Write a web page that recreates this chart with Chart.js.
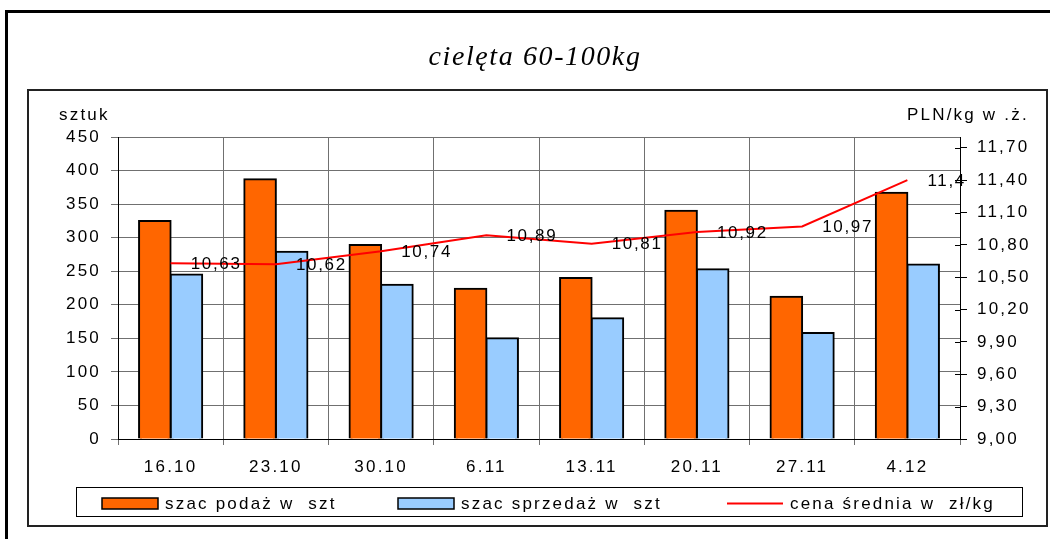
<!DOCTYPE html>
<html>
<head>
<meta charset="utf-8">
<script src="https://cdn.jsdelivr.net/npm/chart.js@4.4.0/dist/chart.umd.min.js"></script>
<style>
  html, body { margin: 0; padding: 0; background: #fff; overflow: hidden; }
  canvas { display: block; }
</style>
</head>
<body>
<canvas id="chart" width="1050" height="539"></canvas>
<script>
const weeks = ['16.10', '23.10', '30.10', '6.11', '13.11', '20.11', '27.11', '4.12'];
const supply = [325, 387, 289, 224, 240, 340, 212, 367];
const sales = [245, 279, 230, 150, 180, 253, 158, 260];
const price = [10.63, 10.62, 10.74, 10.89, 10.81, 10.92, 10.97, 11.4];
const countTicks = [0, 50, 100, 150, 200, 250, 300, 350, 400, 450];
const priceTicks = [9.0, 9.3, 9.6, 9.9, 10.2, 10.5, 10.8, 11.1, 11.4, 11.7];

const FONT = '"Liberation Sans", Arial, sans-serif';
const SPACING = '2.2px';

function comma(v, digits) {
    return (digits === undefined ? String(v) : v.toFixed(digits)).replace('.', ',');
}

const decor = {
    id: 'decor',
    beforeDraw(chart) {
        const ctx = chart.ctx;
        ctx.letterSpacing = SPACING;
        ctx.save();
        ctx.fillStyle = '#fff';
        ctx.fillRect(0, 0, chart.width, chart.height);
        ctx.restore();
    },
    afterDatasetsDraw(chart) {
        // value labels to the right of the price line points
        const ctx = chart.ctx;
        const meta = chart.getDatasetMeta(2);
        ctx.save();
        ctx.letterSpacing = '1.7px';
        ctx.font = '17px ' + FONT;
        ctx.fillStyle = '#000';
        ctx.textAlign = 'left';
        ctx.textBaseline = 'middle';
        meta.data.forEach((pt, i) => {
            ctx.fillText(comma(price[i]), pt.x + 20, pt.y + 1);
        });
        ctx.restore();
    },
    afterDraw(chart) {
        const ctx = chart.ctx;
        const area = chart.chartArea;
        ctx.save();

        // inward half of the right axis ticks
        const y1 = chart.scales.y1;
        ctx.strokeStyle = '#000';
        ctx.lineWidth = 1;
        y1.ticks.forEach(t => {
            const y = Math.round(y1.getPixelForValue(t.value)) + 0.5;
            ctx.beginPath();
            ctx.moveTo(area.right - 5, y);
            ctx.lineTo(area.right, y);
            ctx.stroke();
        });

        // frames
        ctx.strokeStyle = '#000';
        ctx.lineWidth = 3;
        ctx.strokeRect(6.5, 11.5, 1060, 540);
        ctx.strokeStyle = '#222';
        ctx.lineWidth = 2;
        ctx.strokeRect(28, 90, 1019, 436);
        ctx.lineWidth = 1;
        ctx.strokeStyle = '#000';
        ctx.strokeRect(76.5, 487.5, 946, 29);

        // title
        ctx.fillStyle = '#000';
        ctx.letterSpacing = '1.6px';
        ctx.font = 'italic 28px "Liberation Serif", "Times New Roman", serif';
        ctx.textAlign = 'center';
        ctx.textBaseline = 'alphabetic';
        ctx.fillText('cielęta 60-100kg', 535, 65);

        // axis units
        ctx.letterSpacing = SPACING;
        ctx.font = '17px ' + FONT;
        ctx.textAlign = 'left';
        ctx.fillText('sztuk', 59, 120);
        ctx.fillText('PLN/kg w .ż.', 907, 120);

        // legend
        const xs = [102, 398, 727];
        chart.data.datasets.forEach((ds, i) => {
            const x = xs[i];
            if (ds.type === 'line') {
                ctx.strokeStyle = ds.borderColor;
                ctx.lineWidth = 2;
                ctx.beginPath();
                ctx.moveTo(x, 503.5);
                ctx.lineTo(x + 56, 503.5);
                ctx.stroke();
            } else {
                ctx.fillStyle = ds.backgroundColor;
                ctx.fillRect(x, 498, 56, 11);
                ctx.strokeStyle = '#000';
                ctx.lineWidth = 1.5;
                ctx.strokeRect(x, 498, 56, 11);
            }
            ctx.fillStyle = '#000';
            ctx.fillText(ds.label, x + 63, 509);
        });
        ctx.restore();
    }
};

new Chart(document.getElementById('chart').getContext('2d'), {
    data: {
        labels: weeks,
        datasets: [{
            type: 'bar',
            label: 'szac podaż w  szt',
            data: supply,
            backgroundColor: '#FF6600',
            borderColor: '#000',
            borderWidth: 2,
            inflateAmount: 1,
            yAxisID: 'y',
            order: 1
        }, {
            type: 'bar',
            label: 'szac sprzedaż w  szt',
            data: sales,
            backgroundColor: '#99CCFF',
            borderColor: '#000',
            borderWidth: 2,
            inflateAmount: 1,
            yAxisID: 'y',
            order: 1
        }, {
            type: 'line',
            label: 'cena średnia w  zł/kg',
            data: price,
            borderColor: '#FF0000',
            borderWidth: 2,
            pointRadius: 0,
            tension: 0,
            yAxisID: 'y1',
            order: 0
        }]
    },
    options: {
        responsive: false,
        animation: false,
        devicePixelRatio: 1,
        layout: { padding: { top: 137, left: 0, right: 0, bottom: 0 } },
        datasets: {
            bar: { categoryPercentage: 0.6, barPercentage: 1.0 }
        },
        plugins: {
            legend: { display: false },
            title: { display: false },
            tooltip: { enabled: false }
        },
        scales: {
            x: {
                offset: true,
                grid: { offset: true, color: '#707070', lineWidth: 1, tickLength: 6 },
                border: { color: '#000', width: 1 },
                ticks: { color: '#000', font: { size: 17, family: FONT }, padding: 12, maxRotation: 0 },
                afterFit(scale) { scale.height = 100; }
            },
            y: {
                position: 'left',
                min: 0,
                max: 450,
                afterBuildTicks(scale) { scale.ticks = countTicks.map(v => ({ value: v })); },
                grid: { color: '#707070', lineWidth: 1, tickLength: 7 },
                border: { color: '#000', width: 1 },
                ticks: { color: '#000', font: { size: 17, family: FONT }, padding: 10 },
                afterFit(scale) { scale.width = 118; }
            },
            y1: {
                position: 'right',
                min: 9.0,
                max: 11.8,
                afterBuildTicks(scale) { scale.ticks = priceTicks.map(v => ({ value: v })); },
                grid: { drawOnChartArea: false, color: '#000', tickLength: 7 },
                border: { color: '#000', width: 1 },
                ticks: {
                    color: '#000',
                    font: { size: 17, family: FONT },
                    padding: 10,
                    callback: v => comma(v, 2)
                },
                afterFit(scale) { scale.width = 90; }
            }
        }
    },
    plugins: [decor]
});
</script>
</body>
</html>
